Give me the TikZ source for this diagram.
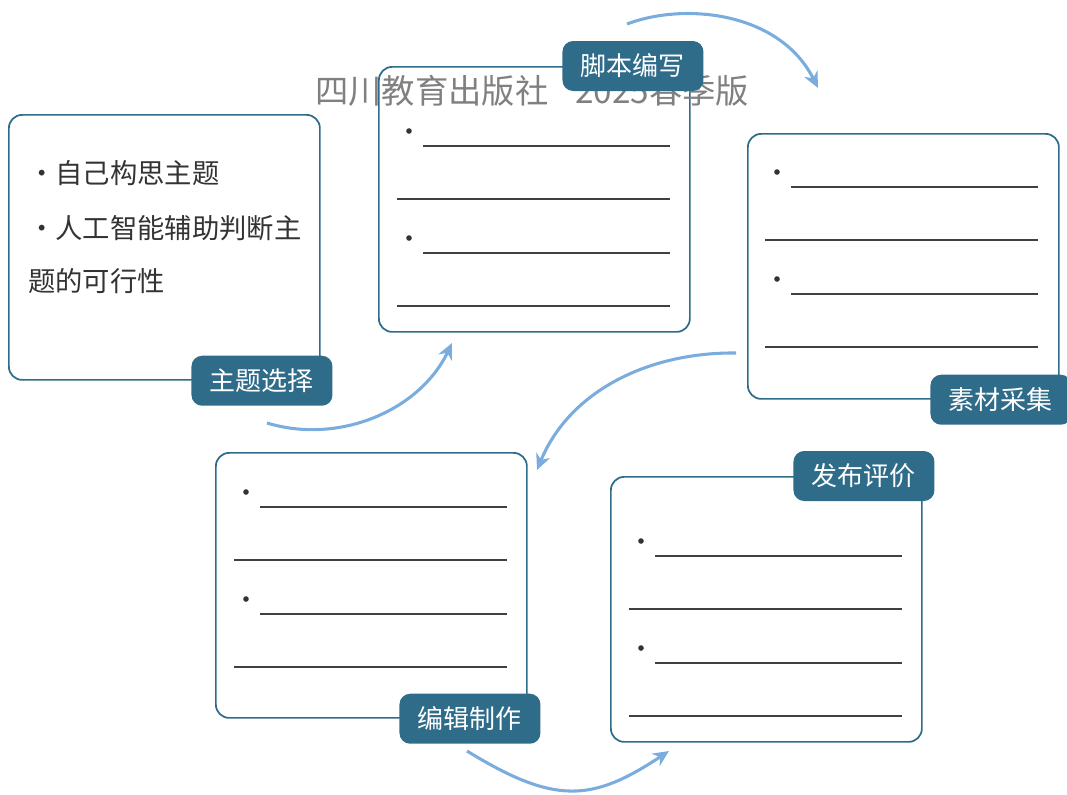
\documentclass[tikz,border=0pt]{standalone}
\usepackage{fontspec}
\setmainfont{Noto Sans CJK SC}
\usepackage{xcolor}
\usepackage{tikz}
\usetikzlibrary{arrows.meta}

\tikzset{
    card/.style={draw=tabblue, line width=1.3pt, rounded corners=10pt,
        minimum width=233.25pt, minimum height=198.75pt, inner sep=0pt, anchor=north west},
    tab/.style={fill=tabblue, text=white, rounded corners=8pt,
        minimum width=105.75pt, minimum height=37.5pt, inner sep=0pt, anchor=east,
        font=\fontsize{19.5}{20}\selectfont},
    point/.style={anchor=west, inner sep=0pt, text=textgray,
        font=\fontsize{20.5}{20.5}\selectfont},
    flow/.style={draw=flowblue, line width=2.3pt, -{Stealth[length=12pt,width=11pt]}}
}

\begin{document}
\begin{tikzpicture}[x=0.75pt, y=0.75pt]
        % Define colors
        \definecolor{tabblue}{RGB}{47,108,138}
        \definecolor{flowblue}{RGB}{122,172,221}
        \definecolor{textgray}{RGB}{51,51,51}
        \definecolor{markgray}{RGB}{128,128,128}

        \useasboundingbox (0,0) rectangle (1067,-794);

        % Cards
        \node[card] (topic) at (8,-114) {};
        \node[card] (script) at (378,-66) {};
        \node[card] (material) at (747,-133) {};
        \node[card] (editing) at (215,-452) {};
        \node[card] (publish) at (610,-476) {};

        % Text of the first card
        \node[point] (p1) at (28,-173) {・自己构思主题};
        \node[point] (p2) at (28,-228) {・人工智能辅助判断主};
        \node[point] (p3) at (28,-281) {题的可行性};

        % Blank lines to fill in
        \foreach \bx/\by in {378/91, 746/132, 215/452, 610/501} {
                \foreach \k in {0,1} {
                        \pgfmathtruncatemacro{\dy}{\by+107*\k}
                        \fill[textgray] (\bx+31, -\dy-40) circle (2.8);
                        \draw[black!75, line width=0.8pt] (\bx+45, -\dy-55) -- (\bx+292, -\dy-55);
                        \draw[black!75, line width=0.8pt] (\bx+19, -\dy-108) -- (\bx+292, -\dy-108);
                    }
            }

        % Watermark
        \node[text=markgray, font=\fontsize{25}{25}\selectfont] (mark) at (532,-91)
            {四川教育出版社\hspace{0.8em}2025春季版};

        % Tabs
        \node[tab] (t1) at ([xshift=9pt]topic.south east) {主题选择};
        \node[tab] (t2) at ([xshift=9.75pt]script.north east) {脚本编写};
        \node[tab] (t3) at ([xshift=9pt]material.south east) {素材采集};
        \node[tab] (t4) at ([xshift=9.75pt]editing.south east) {编辑制作};
        \node[tab] (t5) at ([xshift=9pt]publish.north east) {发布评价};

        % Arrows
        \coordinate (a1) at (267,-423);
        \coordinate (b1) at (452,-343);
        \coordinate (a2) at (627,-24);
        \coordinate (b2) at (818,-88);
        \coordinate (a3) at (736,-353);
        \coordinate (b3) at (537,-470);
        \coordinate (a4) at (467,-751);
        \coordinate (b4) at (669,-751);
        \draw[flow] (a1) .. controls (340,-445) and (420,-410) .. (b1);
        \draw[flow] (a2) .. controls (685,-2) and (780,-12) .. (b2);
        \draw[flow] (a3) .. controls (650,-352) and (570,-390) .. (b3);
        \draw[flow] (a4) .. controls (555,-805) and (592,-802) .. (b4);

    \end{tikzpicture}
\end{document}
